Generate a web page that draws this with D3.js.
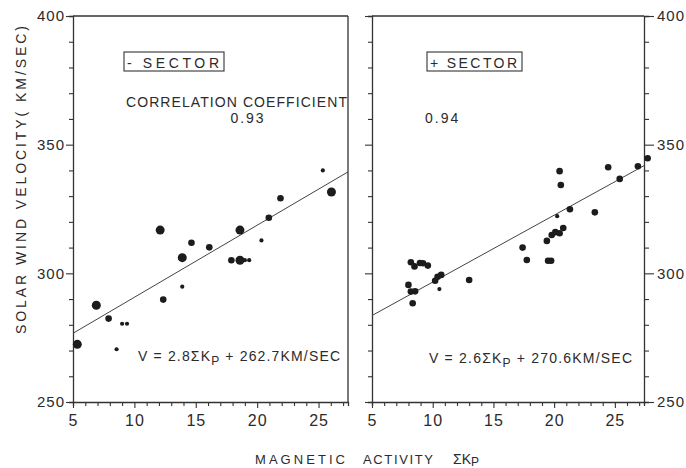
<!DOCTYPE html>
<html>
<head>
<meta charset="utf-8">
<script src="https://cdn.jsdelivr.net/npm/d3@7"></script>
<style>
  html, body { margin: 0; padding: 0; background: #fff; }
  svg { display: block; }
  .lbl { font-family: "Liberation Sans", "DejaVu Sans", sans-serif; fill: #2b2b2b; }
</style>
</head>
<body>
<div id="chart"></div>
<script>
// ---- data ----
// "-" sector: sum Kp, solar wind velocity, number of overlapping days (dot size)
var minusKp = [5.35, 6.9, 7.9, 8.55, 9.0, 9.4, 12.1, 12.35, 13.9, 13.9, 14.65, 16.1,
               17.9, 18.6, 18.6, 19.0, 19.35, 20.35, 20.95, 21.9, 25.35, 26.05];
var minusV  = [272.4, 287.6, 282.4, 270.5, 280.4, 280.4, 316.8, 289.8, 306.1, 294.8, 311.9, 310.1,
               305.1, 316.8, 305.1, 305.1, 305.1, 312.8, 321.6, 329.2, 340.0, 331.6];
var minusN  = [3, 3, 2, 1, 1, 1, 3, 2, 3, 1, 2, 2,
               2, 3, 3, 1, 1, 1, 2, 2, 1, 3];

// "+" sector
var plusKp = [8.2, 8.5, 8.95, 9.2, 9.6, 8.0, 8.2, 8.55, 8.35, 10.2, 10.4, 10.7, 10.55, 13.0,
              17.4, 17.75, 19.4, 19.5, 19.75, 19.8, 20.1, 20.45, 20.75, 20.25, 20.45, 20.55,
              21.3, 23.35, 24.45, 25.4, 26.9, 27.7];
var plusV  = [304.3, 302.7, 304.0, 303.9, 303.0, 295.5, 292.9, 293.0, 288.4, 297.1, 298.7, 299.4, 293.9, 297.4,
              310.0, 305.2, 312.6, 304.9, 304.9, 314.9, 316.0, 315.6, 317.6, 322.2, 339.7, 334.3,
              324.9, 323.7, 341.2, 336.7, 341.6, 344.7];
var plusN  = [2, 2, 2, 2, 2, 2, 2, 2, 2, 2, 2, 2, 1, 2,
              2, 2, 2, 2, 2, 2, 2, 2, 2, 1, 2, 2,
              2, 2, 2, 2, 2, 2];

// regression: V = slope * sumKp + intercept
var minusFit = [2.8, 262.7];
var plusFit  = [2.6, 270.6];
var minusCorr = "0.93";
var plusCorr  = "0.94";

var xDomain = [5, 27.4];
var yDomain = [250, 400];
var xMajor = [5, 10, 15, 20, 25];
var yMajor = [250, 300, 350, 400];

// ---- layout ----
var W = 686, H = 468;
var plotTop = 16, plotBottom = 402;
var ink = "#333";

var svg = d3.select("#chart").append("svg")
  .attr("width", W).attr("height", H)
  .attr("viewBox", "0 0 " + W + " " + H);

var y = d3.scaleLinear().domain(yDomain).range([plotBottom, plotTop]);
var r = d3.scaleLinear().domain([1, 3]).range([2.1, 4.5]);

function zip(xs, ys, ns) {
  return xs.map(function (k, i) { return { k: k, v: ys[i], n: ns[i] }; });
}

function styleAxis(sel) {
  sel.selectAll("path.domain").attr("stroke", ink).attr("stroke-width", 1.3);
  sel.selectAll(".tick line").attr("stroke", ink).attr("stroke-width", 1.1);
  sel.selectAll(".tick text")
    .attr("class", "lbl")
    .style("font-size", "15px")
    .style("letter-spacing", "1px")
    .attr("fill", "#2b2b2b");
}

function drawPanel(opt) {
  var x = d3.scaleLinear().domain(xDomain).range([opt.x0, opt.x1]);
  var g = svg.append("g");

  // top frame line
  g.append("line").attr("x1", opt.x0).attr("x2", opt.x1).attr("y1", plotTop).attr("y2", plotTop)
    .attr("stroke", ink).attr("stroke-width", 1.3);

  // bottom axis: unit ticks, labels every 5
  var xa = g.append("g").attr("transform", "translate(0," + plotBottom + ")")
    .call(d3.axisBottom(x)
      .tickValues(d3.range(5, 28, 1))
      .tickSizeOuter(0)
      .tickSize(4)
      .tickPadding(9)
      .tickFormat(function (d) { return xMajor.indexOf(d) >= 0 ? d : ""; }));
  styleAxis(xa);
  xa.selectAll(".tick text").style("font-size", "16px");
  xa.selectAll(".tick line").filter(function (d) { return xMajor.indexOf(d) >= 0; }).attr("y2", 6);

  // left axis
  var ya = g.append("g").attr("transform", "translate(" + opt.x0 + ",0)")
    .call(d3.axisLeft(y)
      .tickValues(d3.range(250, 401, 10))
      .tickSizeOuter(0)
      .tickSize(4)
      .tickPadding(4)
      .tickFormat(function (d) { return opt.leftLabels && yMajor.indexOf(d) >= 0 ? d : ""; }));
  styleAxis(ya);
  ya.selectAll(".tick line").filter(function (d) { return yMajor.indexOf(d) >= 0; }).attr("x2", -7);

  // right side
  if (opt.rightAxis) {
    var ra = g.append("g").attr("transform", "translate(" + opt.x1 + ",0)")
      .call(d3.axisRight(y)
        .tickValues(d3.range(250, 401, 10))
        .tickSizeOuter(0)
        .tickSize(5)
        .tickPadding(8)
        .tickFormat(function (d) { return yMajor.indexOf(d) >= 0 ? d : ""; }));
    styleAxis(ra);
    ra.selectAll(".tick line").filter(function (d) { return yMajor.indexOf(d) >= 0; }).attr("x2", 10);
    ra.selectAll(".tick text").attr("fill", "#555");
  } else {
    g.append("line").attr("x1", opt.x1).attr("x2", opt.x1).attr("y1", plotTop).attr("y2", plotBottom)
      .attr("stroke", ink).attr("stroke-width", 1.3);
  }

  // regression line
  var line = d3.line()
    .x(function (k) { return x(k); })
    .y(function (k) { return y(opt.fit[0] * k + opt.fit[1]); });
  g.append("path").datum(xDomain)
    .attr("d", line)
    .attr("fill", "none")
    .attr("stroke", "#444")
    .attr("stroke-width", 1);

  // points
  g.selectAll("circle.pt")
    .data(opt.data)
    .join("circle")
    .attr("class", "pt")
    .attr("cx", function (d) { return x(d.k); })
    .attr("cy", function (d) { return y(d.v); })
    .attr("r", function (d) { return r(d.n); })
    .attr("fill", "#1c1c1c");

  // sector box
  g.append("rect")
    .attr("x", opt.box[0]).attr("y", 52).attr("width", opt.box[1]).attr("height", 19)
    .attr("fill", "none").attr("stroke", ink).attr("stroke-width", 1.1);
  g.append("text").attr("class", "lbl")
    .attr("x", opt.box[0] + 3).attr("y", 67.5)
    .attr("textLength", opt.box[1] - 8).attr("lengthAdjust", "spacing")
    .style("font-size", "14px")
    .text(opt.title);

  // equation
  var eq = g.append("text").attr("class", "lbl")
    .attr("x", opt.eq[0]).attr("y", opt.eq[1])
    .style("font-size", "14px");
  eq.append("tspan").text("V = " + opt.fit[0].toFixed(1) + "\u03A3K");
  eq.append("tspan").attr("dy", 4).style("font-size", "12px").text("P");
  eq.append("tspan").attr("dy", -4).text(" + " + opt.fit[1].toFixed(1) + "KM/SEC");
  eq.attr("textLength", opt.eq[2]).attr("lengthAdjust", "spacing");

  return g;
}

var left = drawPanel({
  x0: 73, x1: 348, leftLabels: true, rightAxis: false,
  data: zip(minusKp, minusV, minusN), fit: minusFit,
  box: [124, 100], title: "- SECTOR", eq: [138, 361, 202]
});

var right = drawPanel({
  x0: 372, x1: 644, leftLabels: false, rightAxis: true,
  data: zip(plusKp, plusV, plusN), fit: plusFit,
  box: [427, 95], title: "+ SECTOR", eq: [429, 363, 203]
});

// correlation text
left.append("text").attr("class", "lbl")
  .attr("x", 126).attr("y", 107)
  .attr("textLength", 221).attr("lengthAdjust", "spacing")
  .style("font-size", "14px")
  .text("CORRELATION COEFFICIENT");
left.append("text").attr("class", "lbl")
  .attr("x", 248).attr("y", 123).attr("text-anchor", "middle")
  .style("font-size", "14px").style("letter-spacing", "2px")
  .text(minusCorr);
right.append("text").attr("class", "lbl")
  .attr("x", 425).attr("y", 123)
  .style("font-size", "14px").style("letter-spacing", "2px")
  .text(plusCorr);

// axis titles
svg.append("text").attr("class", "lbl")
  .attr("transform", "translate(26,180) rotate(-90)")
  .attr("text-anchor", "middle")
  .attr("textLength", 308).attr("lengthAdjust", "spacing")
  .style("font-size", "14px")
  .text("SOLAR WIND VELOCITY( KM/SEC)");

var xt = [["MAGNETIC", 255, 90], ["ACTIVITY", 363, 70]];
xt.forEach(function (t) {
  svg.append("text").attr("class", "lbl")
    .attr("x", t[1]).attr("y", 464)
    .attr("textLength", t[2]).attr("lengthAdjust", "spacing")
    .style("font-size", "13px")
    .text(t[0]);
});
var sk = svg.append("text").attr("class", "lbl").attr("x", 453).attr("y", 464).style("font-size", "14px");
sk.append("tspan").text("\u03A3K");
sk.append("tspan").attr("dy", 2).style("font-size", "12px").text("P");
</script>
</body>
</html>
